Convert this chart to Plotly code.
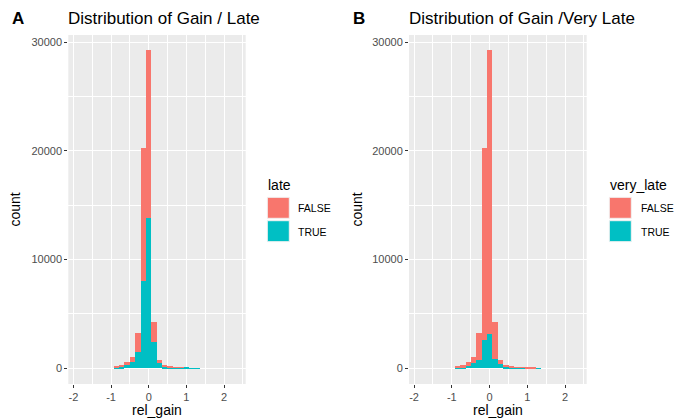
import plotly.graph_objects as go

# Histogram bins of rel_gain (30 bins, width ~0.1427)
bin_centers = [-1.850, -1.707, -1.564, -1.422, -1.279, -1.136, -0.994, -0.851,
               -0.708, -0.565, -0.423, -0.280, -0.137, 0.005, 0.148, 0.291,
               0.433, 0.576, 0.719, 0.862, 1.004, 1.147, 1.290, 1.432,
               1.575, 1.718, 1.861, 2.003, 2.146, 2.289]
bin_width = 0.1427

# Panel A: counts split by `late`
late_true = [0, 0, 0, 0, 0, 0, 0, 80, 150, 320, 520, 1440, 8000, 13840, 2360, 460,
             180, 100, 70, 35, 20, 13, 9, 0, 0, 0, 0, 0, 0, 0]
late_false = [0, 0, 0, 0, 0, 0, 0, 70, 120, 200, 480, 1760, 12300, 15460, 1890, 330,
              40, 20, 10, 5, 0, 0, 0, 0, 0, 0, 0, 0, 0, 0]

# Panel B: counts split by `very_late`
very_late_true = [0, 0, 0, 0, 0, 0, 0, 40, 90, 200, 430, 750, 2600, 3120, 830, 370,
                  150, 80, 50, 25, 12, 7, 5, 0, 0, 0, 0, 0, 0, 0]
very_late_false = [0, 0, 0, 0, 0, 0, 0, 110, 180, 320, 570, 2450, 17700, 26180, 3420, 420,
                   70, 40, 30, 15, 13, 8, 0, 0, 0, 0, 0, 0, 0, 0]

x_tick_vals = [-2, -1, 0, 1, 2]
x_tick_text = ["-2", "-1", "0", "1", "2"]
y_tick_vals = [0, 10000, 20000, 30000]
y_tick_text = ["0", "10000", "20000", "30000"]

RED = "#F8766D"
TEAL = "#00BFC4"
FONT = "Liberation Sans, Arial, Helvetica, sans-serif"
W, H = 674, 419

fig = go.Figure()

for xa, ya, t_vals, f_vals in [("x", "y", late_true, late_false),
                               ("x2", "y2", very_late_true, very_late_false)]:
    fig.add_trace(go.Bar(x=bin_centers, y=t_vals, width=bin_width, xaxis=xa, yaxis=ya,
                         marker=dict(color=TEAL, line=dict(width=0)), showlegend=False,
                         name="TRUE"))
    fig.add_trace(go.Bar(x=bin_centers, y=f_vals, width=bin_width, xaxis=xa, yaxis=ya,
                         marker=dict(color=RED, line=dict(width=0)), showlegend=False,
                         name="FALSE"))


def px_x(p):
    return p / W


def px_y(p):
    return 1 - p / H


xaxis_common = dict(
    range=[-2.135, 2.575], tickvals=x_tick_vals, ticktext=x_tick_text,
    showgrid=True, gridcolor="white", gridwidth=1.1, zeroline=False,
    ticks="outside", ticklen=3, tickwidth=1, tickcolor="#333333",
    tickfont=dict(family=FONT, size=11, color="#4D4D4D"),
    minor=dict(tickvals=[-1.5, -0.5, 0.5, 1.5, 2.5], showgrid=True,
               gridcolor="white", gridwidth=0.5, ticks=""),
    showline=False, fixedrange=True,
)
yaxis_common = dict(
    range=[-1460, 30660], tickvals=y_tick_vals, ticktext=y_tick_text,
    showgrid=True, gridcolor="white", gridwidth=1.1, zeroline=False,
    ticks="outside", ticklen=3, tickwidth=1, tickcolor="#333333",
    tickfont=dict(family=FONT, size=11, color="#4D4D4D"),
    minor=dict(tickvals=[5000, 15000, 25000], showgrid=True,
               gridcolor="white", gridwidth=0.5, ticks=""),
    showline=False, fixedrange=True,
)

plot_top, plot_bottom = 35, 384
fig.update_layout(
    width=W, height=H,
    margin=dict(l=0, r=0, t=0, b=0),
    paper_bgcolor="white", plot_bgcolor="#EBEBEB",
    barmode="stack", bargap=0,
    xaxis=dict(domain=[px_x(68.3), px_x(245.7)], anchor="y", **xaxis_common),
    yaxis=dict(domain=[px_y(plot_bottom), px_y(plot_top)], anchor="x", **yaxis_common),
    xaxis2=dict(domain=[px_x(409), px_x(586.7)], anchor="y2", **xaxis_common),
    yaxis2=dict(domain=[px_y(plot_bottom), px_y(plot_top)], anchor="x2", **yaxis_common),
)

annotations = []
shapes = []


def text(x, y, s, size, color="black", xanchor="left", yanchor="middle", angle=0, bold=False):
    annotations.append(dict(
        x=px_x(x), y=px_y(y), xref="paper", yref="paper", text=f"<b>{s}</b>" if bold else s,
        showarrow=False, xanchor=xanchor, yanchor=yanchor, textangle=angle,
        font=dict(family=FONT, size=size, color=color),
    ))


panels = [
    dict(tag="A", title="Distribution of Gain / Late", left=68.3, right=245.7,
         tag_x=10, ylab_x=14, legend_title="late", key_x=267.3, label_x=296),
    dict(tag="B", title="Distribution of Gain /Very Late", left=409, right=586.7,
         tag_x=351, ylab_x=356, legend_title="very_late", key_x=609.3, label_x=639),
]

for p in panels:
    text(p["tag_x"], 18, p["tag"], 17, bold=True)
    text(p["left"] - 2, 18.5, p["title"], 17)
    text(p["ylab_x"], (plot_top + plot_bottom) / 2, "count", 14, angle=-90, xanchor="center")
    text((p["left"] + p["right"]) / 2, 410, "rel_gain", 14, xanchor="center")
    # legend
    text(p["key_x"] - 1, 184.5, p["legend_title"], 14)
    for i, (lab, col) in enumerate([("FALSE", RED), ("TRUE", TEAL)]):
        y0 = 197.3 + i * 23.4
        shapes.append(dict(type="rect", xref="paper", yref="paper",
                           x0=px_x(p["key_x"]), x1=px_x(p["key_x"] + 22),
                           y0=px_y(y0), y1=px_y(y0 + 21),
                           fillcolor=col, line=dict(color="#F2F2F2", width=1)))
        text(p["label_x"], y0 + 11, lab, 10.5, color="black")

fig.update_layout(annotations=annotations, shapes=shapes)

fig.write_html("out.html")
